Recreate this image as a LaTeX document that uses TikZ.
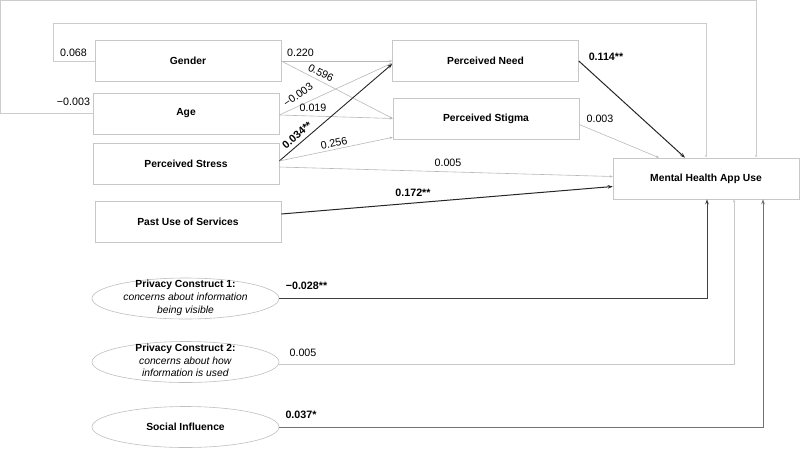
\documentclass[tikz,border=0pt]{standalone}
\usepackage{fontspec}
\setmainfont{Liberation Sans}
\usetikzlibrary{arrows.meta, shapes.geometric}

% multi-line oval text that does not stretch the ellipse
\newcommand{\ovaltext}[1]{\smash{\raisebox{-2pt}{\begin{tabular}{@{}c@{}}#1\end{tabular}}}}

\begin{document}
\begin{tikzpicture}[
    x=1pt, y=-1pt,
    % Style for the rectangular variable boxes
    box/.style={rectangle, draw=black!22, line width=0.6pt, minimum width=186pt, minimum height=41pt,
        inner sep=0pt, font=\fontsize{10.3}{12}\selectfont\bfseries},
    % Style for the oval constructs
    oval/.style={ellipse, draw=black!25, line width=0.6pt, minimum width=187pt, minimum height=41pt,
        inner sep=0pt, font=\fontsize{10.3}{12.6}\selectfont},
    % Styles for the paths
    weak/.style={draw=black!28, line width=0.6pt, -{Stealth[length=3pt, width=2.4pt]}},
    strong/.style={draw=black!85, line width=1pt, -{Stealth[length=5pt, width=3.6pt]}},
    % Style for the path coefficients
    coef/.style={inner sep=0pt, font=\fontsize{10.7}{12}\selectfont},
    sig/.style={coef, font=\fontsize{10.7}{12}\selectfont\bfseries}
]
    \useasboundingbox (0,0) rectangle (800,448);

    % --- 1. Place Nodes ---
    \node[box] (gender) at (188, 61) {Gender};
    \node[box] (age) at (186, 113.5) {Age};
    \node[box] (stress) at (186, 164) {Perceived Stress};
    \node[box] (past) at (188, 222) {Past Use of Services};

    \node[box] (need) at (485.5, 61) {Perceived Need};
    \node[box] (stigma) at (486, 118.5) {Perceived Stigma};

    \node[box] (app) at (706, 178.5) {Mental Health App Use};

    \node[oval] (privacy one) at (185.5, 298.5)
        {\ovaltext{\textbf{Privacy Construct 1:}\\ \textit{concerns about information}\\ \textit{being visible}}};
    \node[oval] (privacy two) at (185.5, 362)
        {\ovaltext{\textbf{Privacy Construct 2:}\\ \textit{concerns about how}\\ \textit{information is used}}};
    \node[oval, font=\fontsize{10.3}{12}\selectfont\bfseries] (social) at (185.5, 427) {Social Influence};

    % corners of the two outer loops
    \coordinate (gender loop) at (53, 23);
    \coordinate (age loop) at (0.3, 0.3);

    % --- 2. Draw Paths ---
    % Outer loops (drawn first so they appear behind)
    \draw[weak, draw=black!20] (gender.west) -| (gender loop) -| (app.north);
    \draw[weak, draw=black!20] (age.west) -| (age loop) -| ([xshift=50pt]app.north);

    % Into the mediators
    \draw[weak] (gender.east) -- (need.west);
    \draw[weak] (gender.east) -- (stigma.west);
    \draw[weak] ([yshift=-1.5pt]age.east) -- ([yshift=-2pt]need.west);
    \draw[weak] ([yshift=-1.5pt]age.east) -- (stigma.west);
    \draw[strong, line width=0.9pt] ([yshift=3pt]stress.east) -- ([yshift=-3pt]need.west);
    \draw[weak] ([yshift=3pt]stress.east) -- ([yshift=2pt]stigma.south west);

    % Into the outcome
    \draw[weak] ([yshift=-3pt]stress.east) -- ([yshift=2pt]app.west);
    \draw[strong] ([yshift=8pt]past.east) -- ([yshift=-8pt]app.west);
    \draw[strong] (need.east) -- ([xshift=-21pt]app.north);
    \draw[weak] ([yshift=-6pt]stigma.east) -- ([xshift=-47pt]app.north);

    % From the ovals
    \draw[strong, draw=black!75] (privacy one.east) -| ([xshift=1pt]app.south);
    \draw[weak, draw=black!22] ([yshift=-2pt]privacy two.east) -| ([xshift=28pt]app.south);
    \draw[strong, draw=black!55] (social.east) -| ([xshift=57pt]app.south);

    % --- 3. Path Coefficients ---
    \node[coef] (c gender loop) at (73.5, 53) {0.068};
    \node[coef] (c age loop) at (73.5, 102) {−0.003};

    \node[coef] (c gender need) at (300.5, 53) {0.220};
    \node[coef, rotate=-27] (c gender stigma) at (321, 73) {0.596};
    \node[coef, rotate=35] (c age need) at (298, 95) {−0.003};
    \node[coef] (c age stigma) at (313, 108) {0.019};
    \node[sig, rotate=41] (c stress need) at (297, 135) {0.034**};
    \node[coef, rotate=12] (c stress stigma) at (334, 143) {0.256};

    \node[coef] (c stress app) at (448, 163) {0.005};
    \node[sig] (c past app) at (413, 193) {0.172**};
    \node[sig] (c need app) at (606, 57) {0.114**};
    \node[coef] (c stigma app) at (600, 119) {0.003};

    \node[sig] (c privacy one) at (306.5, 286) {−0.028**};
    \node[coef] (c privacy two) at (303, 353) {0.005};
    \node[sig] (c social) at (301, 415) {0.037*};

\end{tikzpicture}
\end{document}
